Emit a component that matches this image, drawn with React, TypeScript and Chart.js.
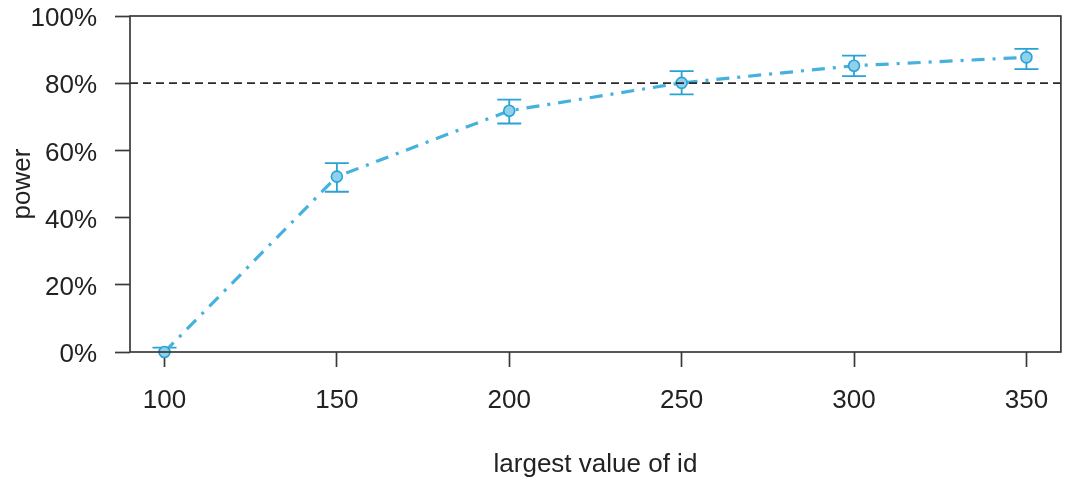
import React, { useEffect, useRef } from "react";
import { Chart, registerables } from "chart.js";

Chart.register(...registerables);

const xValues = [100, 150, 200, 250, 300, 350];
const powerValues = [0, 52.2, 71.8, 80.1, 85.2, 87.7];
const lowerValues = [0, 47.7, 68.0, 76.7, 82.1, 84.2];
const upperValues = [1.3, 56.2, 75.1, 83.6, 88.2, 90.2];
const xTicks = [100, 150, 200, 250, 300, 350];
const yTicks = [0, 20, 40, 60, 80, 100];
const targetPower = 80;

const LINE_COLOR = "#45b1dd";
const BAR_COLOR = "#2aa2d5";
const POINT_FILL = "#8fd0ea";
const AXIS_COLOR = "#3a3a3a";
const TEXT_COLOR = "#222222";
const FONT = "'Liberation Sans', Arial, sans-serif";
const FONT_SIZE = 26;

const overlayPlugin = {
  id: "overlay",
  beforeDatasetsDraw(chart: any) {
    const { ctx } = chart;
    const xs = chart.scales.x;
    const ys = chart.scales.y;
    ctx.save();
    ctx.strokeStyle = BAR_COLOR;
    ctx.lineWidth = 1.8;
    ctx.setLineDash([]);
    const cap = 12;
    xValues.forEach((xv, i) => {
      const px = xs.getPixelForValue(xv);
      const pl = ys.getPixelForValue(lowerValues[i]);
      const pu = ys.getPixelForValue(upperValues[i]);
      ctx.beginPath();
      ctx.moveTo(px, pl);
      ctx.lineTo(px, pu);
      ctx.moveTo(px - cap, pu);
      ctx.lineTo(px + cap, pu);
      if (lowerValues[i] > 0) {
        ctx.moveTo(px - cap, pl);
        ctx.lineTo(px + cap, pl);
      }
      ctx.stroke();
    });
    ctx.restore();
  },
  afterDatasetsDraw(chart: any) {
    const { ctx, chartArea } = chart;
    const ys = chart.scales.y;
    ctx.save();
    const py = ys.getPixelForValue(targetPower);
    ctx.strokeStyle = "#2a2a2a";
    ctx.lineWidth = 1.8;
    ctx.setLineDash([8, 5]);
    ctx.beginPath();
    ctx.moveTo(chartArea.left, py);
    ctx.lineTo(chartArea.right, py);
    ctx.stroke();
    ctx.setLineDash([]);
    ctx.strokeStyle = AXIS_COLOR;
    ctx.lineWidth = 1.7;
    ctx.strokeRect(chartArea.left, chartArea.top, chartArea.right - chartArea.left, chartArea.bottom - chartArea.top);
    ctx.restore();
  },
};

export default function App() {
  const canvasRef = useRef<HTMLCanvasElement | null>(null);

  useEffect(() => {
    if (!canvasRef.current) return;
    const chart = new Chart(canvasRef.current, {
      type: "line",
      data: {
        datasets: [
          {
            label: "power",
            data: xValues.map((x, i) => ({ x, y: powerValues[i] })),
            borderColor: LINE_COLOR,
            borderWidth: 3.2,
            borderDash: [13, 8, 3, 8],
            pointRadius: 5.5,
            pointBackgroundColor: POINT_FILL,
            pointBorderColor: BAR_COLOR,
            pointBorderWidth: 1.6,
            fill: false,
            tension: 0,
            clip: false as any,
          },
        ],
      },
      options: {
        animation: false,
        responsive: true,
        maintainAspectRatio: false,
        layout: { padding: { top: 16, right: 3.4, left: 0, bottom: 0 } },
        plugins: {
          legend: { display: false },
          tooltip: { enabled: false },
        },
        scales: {
          x: {
            type: "linear",
            min: 90,
            max: 360,
            afterBuildTicks: (s: any) => {
              s.ticks = xTicks.map((v) => ({ value: v }));
            },
            afterFit: (s: any) => {
              s.height = 130;
              s.paddingLeft = 0;
              s.paddingRight = 0;
            },
            grid: {
              drawOnChartArea: false,
              drawTicks: true,
              tickLength: 15,
              tickWidth: 1.7,
              tickColor: AXIS_COLOR,
            },
            border: { display: false },
            ticks: {
              color: TEXT_COLOR,
              font: { family: FONT, size: FONT_SIZE },
              padding: 18,
              maxRotation: 0,
              callback: (v: any) => String(v),
            },
            title: {
              display: true,
              text: "largest value of id",
              color: TEXT_COLOR,
              font: { family: FONT, size: FONT_SIZE },
              padding: { top: 0, bottom: 1.5 },
            },
          },
          y: {
            type: "linear",
            min: 0,
            max: 100,
            afterBuildTicks: (s: any) => {
              s.ticks = yTicks.map((v) => ({ value: v }));
            },
            afterFit: (s: any) => {
              s.width = 130;
              s.paddingTop = 0;
              s.paddingBottom = 0;
            },
            grid: {
              drawOnChartArea: false,
              drawTicks: true,
              tickLength: 15,
              tickWidth: 1.7,
              tickColor: AXIS_COLOR,
            },
            border: { display: false },
            ticks: {
              color: TEXT_COLOR,
              font: { family: FONT, size: FONT_SIZE },
              padding: 18,
              labelOffset: 3,
              callback: (v: any) => v + "%",
            },
            title: {
              display: true,
              text: "power",
              color: TEXT_COLOR,
              font: { family: FONT, size: FONT_SIZE },
              padding: { top: 7, bottom: 0 },
            },
          },
        },
      },
      plugins: [overlayPlugin],
    });
    return () => chart.destroy();
  }, []);

  return (
    <div style={{ position: "fixed", left: 0, top: 0, width: 1068, height: 482, background: "#fff" }}>
      <canvas ref={canvasRef} />
    </div>
  );
}
